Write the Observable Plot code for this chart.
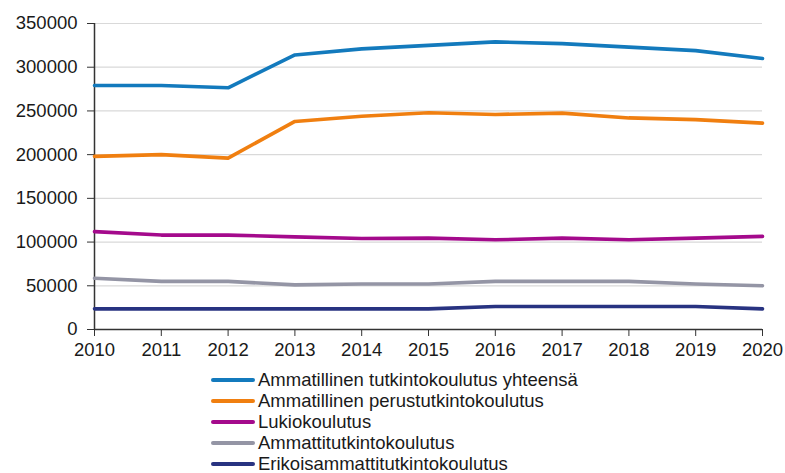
<!DOCTYPE html>
<html>
<head>
<meta charset="utf-8">
<script src="https://cdn.jsdelivr.net/npm/d3@7"></script>
<script src="https://cdn.jsdelivr.net/npm/@observablehq/plot@0.6"></script>
<style>
  html, body { margin: 0; padding: 0; background: #fff; }
  body { width: 785px; height: 473px; overflow: hidden; font-family: "Liberation Sans", Arial, sans-serif; }
  #legend { position: absolute; left: 211px; top: 370px; font-size: 18.5px; color: #1a1a1a; }
  .row { display: flex; align-items: center; height: 20.9px; white-space: nowrap; }
  .row span { line-height: 16px; }
  .sw { width: 44px; height: 4px; border-radius: 2px; margin-right: 3px; }
</style>
</head>
<body>
<div id="chart"></div>
<div id="legend"></div>
<script>
const years = [2010, 2011, 2012, 2013, 2014, 2015, 2016, 2017, 2018, 2019, 2020];
const seriesNames = [
  "Ammatillinen tutkintokoulutus yhteensä",
  "Ammatillinen perustutkintokoulutus",
  "Lukiokoulutus",
  "Ammattitutkintokoulutus",
  "Erikoisammattitutkintokoulutus"
];
const colors = ["#137abd", "#f07f10", "#a40a8c", "#9495a5", "#283381"];
const ammatillinenYhteensa = [279000, 279000, 276500, 314000, 321000, 325000, 329000, 327000, 323000, 319000, 310000];
const perustutkinto = [198000, 200000, 196000, 238000, 244000, 248000, 246000, 247500, 242000, 240000, 236000];
const lukio = [112000, 108000, 108000, 106000, 104000, 104500, 102600, 104500, 102600, 104500, 106500];
const ammattitutkinto = [58700, 55000, 55000, 51000, 52000, 52000, 55000, 55000, 55000, 52000, 50000];
const erikoisammattitutkinto = [23600, 23600, 23600, 23600, 23600, 23600, 26300, 26300, 26300, 26300, 23600];
const yTicks = [0, 50000, 100000, 150000, 200000, 250000, 300000, 350000];

const allSeries = [ammatillinenYhteensa, perustutkinto, lukio, ammattitutkinto, erikoisammattitutkinto];
const data = [];
allSeries.forEach((vals, i) => vals.forEach((v, j) => data.push({year: years[j], value: v, series: seriesNames[i]})));

const chart = Plot.plot({
  width: 785,
  height: 360,
  marginLeft: 94,
  marginRight: 23,
  marginTop: 23,
  marginBottom: 31,
  style: { fontFamily: "'Liberation Sans', Arial, sans-serif", fontSize: "18.5px", color: "#1a1a1a", background: "#fff" },
  x: { domain: [2010, 2020], ticks: years, tickFormat: "d", tickSize: 7, tickPadding: 6, label: null },
  y: { domain: [0, 350000], ticks: yTicks, tickFormat: d => String(d), tickSize: 7, tickPadding: 10, label: null },
  color: { domain: seriesNames, range: colors },
  marks: [
    Plot.gridY(yTicks.slice(1), { stroke: "#d9d9d9", strokeOpacity: 1, strokeWidth: 1.2 }),
    Plot.axisY({ ticks: yTicks, tickFormat: d => String(d), tickSize: 7, tickPadding: 10, stroke: "#333", label: null }),
    Plot.axisX({ ticks: years, tickFormat: "d", tickSize: 7, tickPadding: 6, stroke: "#333", label: null }),
    Plot.ruleX([2010], { stroke: "#333", strokeWidth: 1.5 }),
    Plot.ruleY([0], { stroke: "#333", strokeWidth: 1.5 }),
    Plot.line(data, { x: "year", y: "value", z: "series", stroke: "series", strokeWidth: 3.6, strokeLinejoin: "round" })
  ]
});
document.getElementById("chart").appendChild(chart);

const legend = document.getElementById("legend");
seriesNames.forEach((name, i) => {
  const row = document.createElement("div");
  row.className = "row";
  const sw = document.createElement("div");
  sw.className = "sw";
  sw.style.background = colors[i];
  const t = document.createElement("span");
  t.textContent = name;
  row.appendChild(sw);
  row.appendChild(t);
  legend.appendChild(row);
});
</script>
</body>
</html>
